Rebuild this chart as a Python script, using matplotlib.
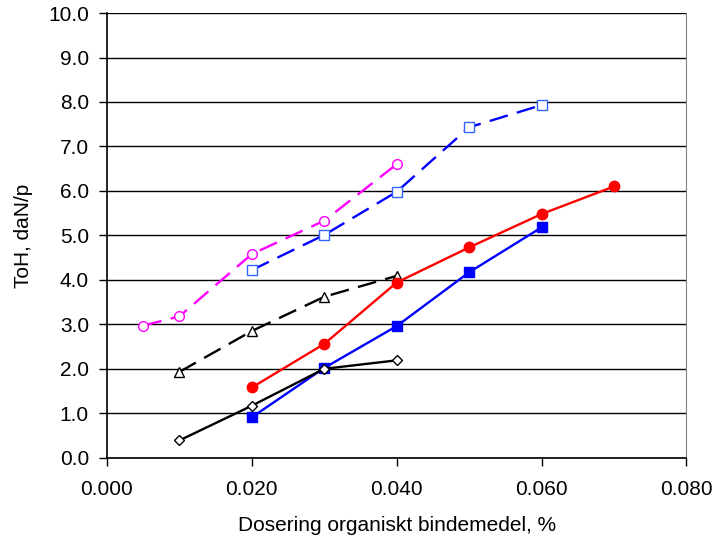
import matplotlib

matplotlib.use("Agg")
import matplotlib.pyplot as plt

plt.rcParams["font.family"] = ["Liberation Sans", "DejaVu Sans"]

# Dosering (%) and ToH (daN/p) for each series.
x_magenta = [0.005, 0.010, 0.020, 0.030, 0.040]
y_magenta = [2.97, 3.18, 4.58, 5.33, 6.60]

x_blue_open = [0.020, 0.030, 0.040, 0.050, 0.060]
y_blue_open = [4.22, 5.01, 5.98, 7.43, 7.93]

x_black_tri = [0.010, 0.020, 0.030, 0.040]
y_black_tri = [1.93, 2.85, 3.62, 4.09]

x_red = [0.020, 0.030, 0.040, 0.050, 0.060, 0.070]
y_red = [1.58, 2.56, 3.94, 4.73, 5.48, 6.10]

x_blue_fill = [0.020, 0.030, 0.040, 0.050, 0.060]
y_blue_fill = [0.91, 2.02, 2.96, 4.17, 5.18]

x_diamond = [0.010, 0.020, 0.030, 0.040]
y_diamond = [0.39, 1.17, 2.00, 2.19]

x_ticks = [0.0, 0.02, 0.04, 0.06, 0.08]
x_ticklabels = ["0.000", "0.020", "0.040", "0.060", "0.080"]
y_ticks = [0, 1, 2, 3, 4, 5, 6, 7, 8, 9, 10]

fig = plt.figure(figsize=(7.18, 5.43), dpi=100)
ax = fig.add_axes([0.149, 0.157, 0.807, 0.819])

lw = 1.7
dash = (8, 4)
ax.plot(x_magenta, y_magenta, color="#FF00FF", lw=lw, dashes=dash,
        marker="o", ms=7, mfc="white", mec="#FF00FF", mew=1.0, zorder=3)
ax.plot(x_blue_open, y_blue_open, color="#0000FF", lw=lw, dashes=dash,
        marker="s", ms=6.5, mfc="white", mec="#3366FF", mew=1.0, zorder=3)
ax.plot(x_black_tri, y_black_tri, color="black", lw=lw, dashes=dash,
        marker="^", ms=7, mfc="white", mec="black", mew=1.0, zorder=3)
ax.plot(x_red, y_red, color="#FF0000", lw=lw, marker="o", ms=7.5,
        mfc="#FF0000", mec="#FF0000", zorder=3)
ax.plot(x_blue_fill, y_blue_fill, color="#0000FF", lw=lw, marker="s", ms=7,
        mfc="#0000FF", mec="#0000FF", zorder=3)
ax.plot(x_diamond, y_diamond, color="black", lw=lw, marker="D", ms=5.5,
        mfc="white", mec="black", mew=1.0, zorder=4)

ax.set_xlim(0, 0.08)
ax.set_ylim(0, 10)
ax.set_xticks(x_ticks)
ax.set_xticklabels(x_ticklabels)
ax.set_yticks(y_ticks)
ax.set_yticklabels([f"{v:.1f}" for v in y_ticks])

ax.yaxis.grid(True, color="black", lw=1.0)
ax.set_axisbelow(True)
ax.tick_params(direction="out", length=6, width=1.0, labelsize=15, pad=7)
ax.tick_params(axis="x", pad=10)

ax.spines["top"].set_visible(False)
ax.spines["right"].set_color("#808080")
ax.spines["left"].set_linewidth(1.2)
ax.spines["bottom"].set_linewidth(1.2)

ax.set_xlabel("Dosering organiskt bindemedel, %", fontsize=15, labelpad=12)
ax.set_ylabel("ToH, daN/p", fontsize=15, labelpad=11)

fig.savefig("out.png", dpi=100)
